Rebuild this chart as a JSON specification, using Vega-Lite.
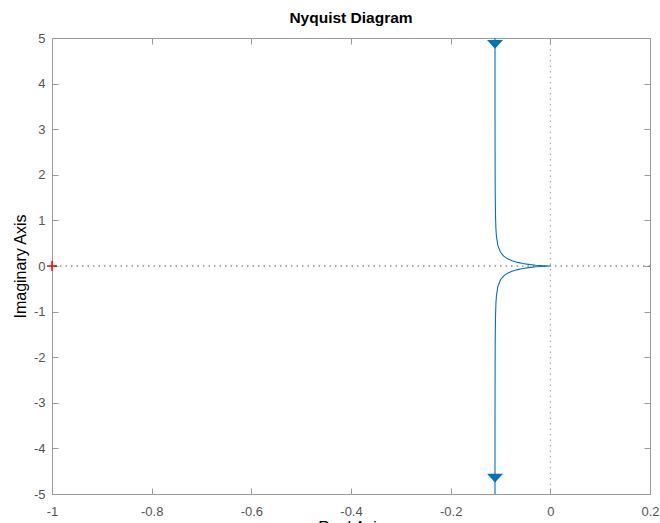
{
  "$schema": "https://vega.github.io/schema/vega-lite/v6.json",
  "width": 598,
  "height": 456,
  "autosize": {"type": "none"},
  "padding": {"left": 52, "top": 38, "right": 10, "bottom": 29},
  "background": "white",
  "title": {"text": "Nyquist Diagram", "font": "Liberation Sans", "fontSize": 15.5, "fontWeight": "bold", "color": "#000000", "anchor": "middle", "offset": -6, "baseline": "alphabetic"},
  "config": {
    "view": {"stroke": null},
    "axis": {
      "grid": false,
      "domainColor": "#9a9a9a",
      "domainWidth": 1,
      "tickColor": "#9a9a9a",
      "tickWidth": 1,
      "tickSize": -6,
      "labelFont": "Liberation Sans",
      "labelFontSize": 13,
      "labelColor": "#555555",
      "labelFlush": false,
      "labelOverlap": false,
      "titleFont": "Liberation Sans",
      "titleFontSize": 16,
      "titleFontWeight": "normal",
      "titleColor": "#000000"
    }
  },
  "datasets": {
    "curve": [
      {"o": 2, "re": -0.11106, "im": 5.126},
      {"o": 3, "re": -0.11103, "im": 4.164},
      {"o": 4, "re": -0.11099, "im": 3.33},
      {"o": 5, "re": -0.11083, "im": 2.217},
      {"o": 6, "re": -0.11062, "im": 1.659},
      {"o": 7, "re": -0.11001, "im": 1.1},
      {"o": 8, "re": -0.10917, "im": 0.8188},
      {"o": 9, "re": -0.10811, "im": 0.6486},
      {"o": 10, "re": -0.10537, "im": 0.4516},
      {"o": 11, "re": -0.1, "im": 0.3},
      {"o": 12, "re": -0.09355, "im": 0.2159},
      {"o": 13, "re": -0.08651, "im": 0.1622},
      {"o": 14, "re": -0.07692, "im": 0.1154},
      {"o": 15, "re": -0.06557, "im": 0.0787},
      {"o": 16, "re": -0.05556, "im": 0.0556},
      {"o": 17, "re": -0.04, "im": 0.03},
      {"o": 18, "re": -0.02941, "im": 0.01765},
      {"o": 19, "re": -0.01724, "im": 0.00739},
      {"o": 20, "re": -0.00917, "im": 0.00275},
      {"o": 21, "re": -0.00244, "im": 0.00037},
      {"o": 22, "re": 0, "im": 0},
      {"o": 23, "re": -0.00244, "im": -0.00037},
      {"o": 24, "re": -0.00917, "im": -0.00275},
      {"o": 25, "re": -0.01724, "im": -0.00739},
      {"o": 26, "re": -0.02941, "im": -0.01765},
      {"o": 27, "re": -0.04, "im": -0.03},
      {"o": 28, "re": -0.05556, "im": -0.0556},
      {"o": 29, "re": -0.06557, "im": -0.0787},
      {"o": 30, "re": -0.07692, "im": -0.1154},
      {"o": 31, "re": -0.08651, "im": -0.1622},
      {"o": 32, "re": -0.09355, "im": -0.2159},
      {"o": 33, "re": -0.1, "im": -0.3},
      {"o": 34, "re": -0.10537, "im": -0.4516},
      {"o": 35, "re": -0.10811, "im": -0.6486},
      {"o": 36, "re": -0.10917, "im": -0.8188},
      {"o": 37, "re": -0.11001, "im": -1.1},
      {"o": 38, "re": -0.11062, "im": -1.659},
      {"o": 39, "re": -0.11083, "im": -2.217},
      {"o": 40, "re": -0.11099, "im": -3.33},
      {"o": 41, "re": -0.11103, "im": -4.164},
      {"o": 42, "re": -0.11106, "im": -5.126}
    ],
    "arrows": [
      {"re": -0.1110, "im": 4.86},
      {"re": -0.1110, "im": -4.65}
    ],
    "crit": [{"re": -1, "im": 0}],
    "hline": [{"im": 0}],
    "vline": [{"re": 0}]
  },
  "layer": [
    {
      "data": {"name": "hline"},
      "mark": {"type": "rule", "color": "#555555", "strokeWidth": 1, "strokeDash": [1.5, 4]},
      "encoding": {
        "y": {
          "field": "im", "type": "quantitative",
          "scale": {"domain": [-5, 5], "nice": false, "zero": false},
          "axis": {
            "orient": "left",
            "title": "Imaginary Axis",
            "values": [-5, -4, -3, -2, -1, 0, 1, 2, 3, 4, 5],
            "labelExpr": "'' + datum.value",
            "labelPadding": 13,
            "titlePadding": 5
          }
        }
      }
    },
    {
      "data": {"name": "vline"},
      "mark": {"type": "rule", "color": "#999999", "strokeWidth": 1, "strokeDash": [1.5, 4]},
      "encoding": {
        "x": {
          "field": "re", "type": "quantitative",
          "scale": {"domain": [-1, 0.2], "nice": false, "zero": false},
          "axis": {
            "orient": "bottom",
            "title": "Real Axis",
            "values": [-1, -0.8, -0.6, -0.4, -0.2, 0, 0.2],
            "labelExpr": "'' + datum.value",
            "labelBaseline": "alphabetic",
            "labelPadding": 27,
            "titleX": 299,
            "titleY": 38,
            "titleAlign": "center",
            "titleBaseline": "alphabetic"
          }
        }
      }
    },
    {
      "data": {"name": "curve"},
      "mark": {"type": "line", "color": "#0072BD", "strokeWidth": 1.1, "clip": true},
      "encoding": {
        "x": {
          "field": "re", "type": "quantitative",
          "scale": {"domain": [-1, 0.2], "nice": false, "zero": false},
          "axis": {"orient": "top", "title": null, "labels": false, "values": [-1, -0.8, -0.6, -0.4, -0.2, 0, 0.2]}
        },
        "y": {
          "field": "im", "type": "quantitative",
          "scale": {"domain": [-5, 5], "nice": false, "zero": false},
          "axis": {"orient": "right", "title": null, "labels": false, "values": [-5, -4, -3, -2, -1, 0, 1, 2, 3, 4, 5]}
        },
        "order": {"field": "o", "type": "quantitative"}
      }
    },
    {
      "data": {"name": "arrows"},
      "mark": {"type": "point", "shape": "M-1,-0.55L1,-0.55L0,0.55Z", "size": 256, "filled": true, "color": "#0072BD", "opacity": 1},
      "encoding": {
        "x": {"field": "re", "type": "quantitative", "axis": null},
        "y": {"field": "im", "type": "quantitative", "axis": null}
      }
    },
    {
      "data": {"name": "crit"},
      "mark": {"type": "point", "shape": "M-1,0L1,0M0,-1L0,1", "size": 100, "filled": false, "stroke": "#ff0000", "strokeWidth": 1.5, "opacity": 1},
      "encoding": {
        "x": {"field": "re", "type": "quantitative", "axis": null},
        "y": {"field": "im", "type": "quantitative", "axis": null}
      }
    }
  ]
}
